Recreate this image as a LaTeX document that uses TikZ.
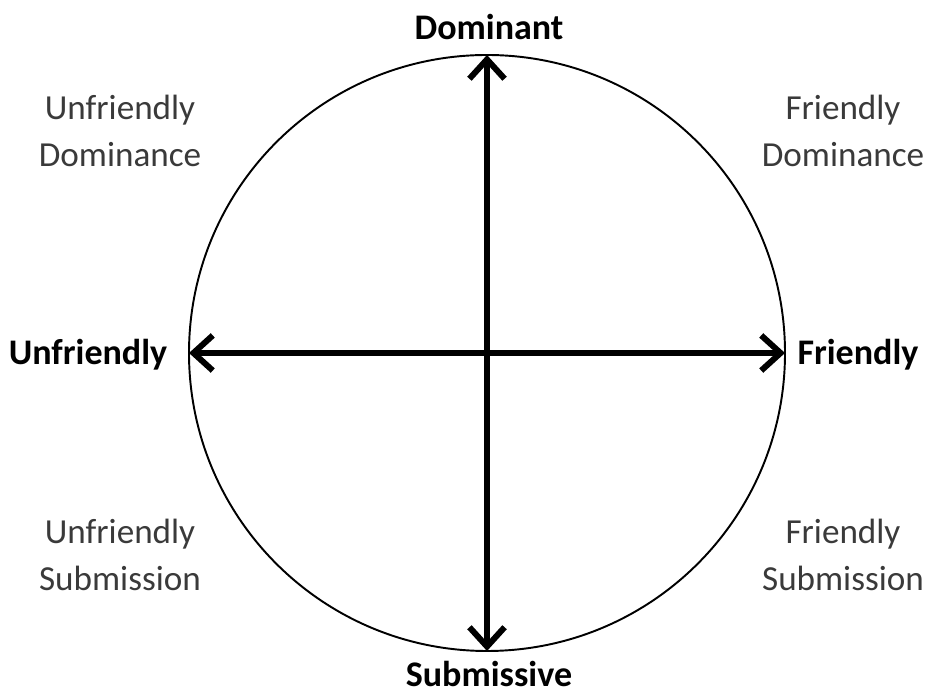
\documentclass[tikz,border=0pt]{standalone}
\usepackage{fontspec}
\setmainfont{Carlito}
\usetikzlibrary{arrows.meta}
\definecolor{quadgray}{HTML}{3A3A3A}

\begin{document}
\begin{tikzpicture}[
    axis/.style={line width=3.4pt, {Straight Barb[length=11pt,width=20pt]}-{Straight Barb[length=11pt,width=20pt]}},
    pole/.style={font=\fontsize{20.5}{24}\selectfont\bfseries},
    quad/.style={font=\fontsize{20}{27}\selectfont, text=quadgray, align=center}
  ]
    \useasboundingbox (0,0) rectangle (18.5,13.86);
    %% Draw the circle
    \coordinate (O) at (9.74,6.80);
    \draw[line width=1.1pt] (O) circle (5.96);
    \coordinate (N) at (9.74,12.76);
    \coordinate (S) at (9.74,0.84);
    \coordinate (W) at (3.78,6.80);
    \coordinate (E) at (15.70,6.80);
    %% Draw the poles
    \node[pole] (dom) at (9.78,13.32) {Dominant};
    \node[pole] (sub) at (9.78,0.38) {Submissive};
    \node[pole] (unf) at (1.76,6.76) {Unfriendly};
    \node[pole] (fri) at (17.16,6.76) {Friendly};
    %% Draw the quadrants
    \node[quad] (ud) at (2.40,11.24) {Unfriendly\\Dominance};
    \node[quad] (fd) at (16.86,11.24) {Friendly\\Dominance};
    \node[quad] (us) at (2.40,2.76) {Unfriendly\\Submission};
    \node[quad] (fs) at (16.86,2.76) {Friendly\\Submission};
    %% Draw the axes
    \draw[axis] (S) -- (N);
    \draw[axis] (W) -- (E);
  \end{tikzpicture}
\end{document}
